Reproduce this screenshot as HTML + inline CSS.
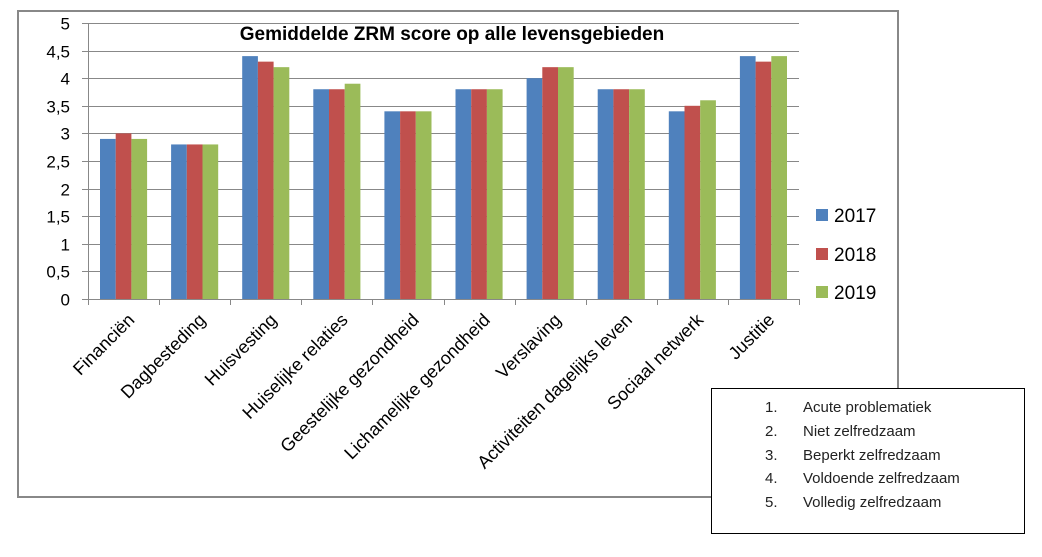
<!DOCTYPE html>
<html><head><meta charset="utf-8"><style>
body{margin:0;background:#fff;width:1042px;height:552px;overflow:hidden}
svg{font-family:"Liberation Sans",sans-serif}
</style></head><body>
<svg width="1042" height="552">
<rect x="18" y="11" width="880" height="486" fill="#fff" stroke="#888" stroke-width="2"/>
<text x="452" y="40" font-size="19" font-weight="bold" text-anchor="middle">Gemiddelde ZRM score op alle levensgebieden</text>
<g id="grid"></g><g id="bars"></g><g id="xl"></g>
<g>
<rect x="816" y="209" width="12" height="12" fill="#4F81BD"/><text x="834" y="222" font-size="19">2017</text>
<rect x="816" y="248" width="12" height="12" fill="#C0504D"/><text x="834" y="261" font-size="19">2018</text>
<rect x="816" y="286" width="12" height="12" fill="#9BBB59"/><text x="834" y="299" font-size="19">2019</text>
</g>
<g>
<rect x="711.5" y="388.5" width="313" height="145" fill="#fff" stroke="#000"/>
<g font-size="15" fill="#222">
<text x="765" y="412">1.</text><text x="803" y="412">Acute problematiek</text>
<text x="765" y="436">2.</text><text x="803" y="436">Niet zelfredzaam</text>
<text x="765" y="460">3.</text><text x="803" y="460">Beperkt zelfredzaam</text>
<text x="765" y="483">4.</text><text x="803" y="483">Voldoende zelfredzaam</text>
<text x="765" y="507">5.</text><text x="803" y="507">Volledig zelfredzaam</text>
</g></g>
</svg>
<script>
const categories=["Financiën","Dagbesteding","Huisvesting","Huiselijke relaties","Geestelijke gezondheid","Lichamelijke gezondheid","Verslaving","Activiteiten dagelijks leven","Sociaal netwerk","Justitie"];
const s2017=[2.9,2.8,4.4,3.8,3.4,3.8,4.0,3.8,3.4,4.4];
const s2018=[3.0,2.8,4.3,3.8,3.4,3.8,4.2,3.8,3.5,4.3];
const s2019=[2.9,2.8,4.2,3.9,3.4,3.8,4.2,3.8,3.6,4.4];
const yTicks=["0","0,5","1","1,5","2","2,5","3","3,5","4","4,5","5"];
const X0=88,X1=799,Y0=299,Y1=23,NS="http://www.w3.org/2000/svg";
const y=v=>Y0-(v/5)*(Y0-Y1);
const cw=(X1-X0)/categories.length;
const xc=i=>X0+cw*(i+0.5);
function mk(t,a,p){const e=document.createElementNS(NS,t);for(const k in a)e.setAttribute(k,a[k]);p.appendChild(e);return e;}
const g=document.getElementById('grid');
yTicks.forEach((t,i)=>{const v=i*0.5,yy=Math.round(y(v))+0.5;
 const l=mk('line',{x1:X0-6,x2:X1,y1:yy,y2:yy,stroke:'#888','stroke-width':1},g);
 
 
 const tx=mk('text',{x:70,y:yy+6,'font-size':17,'text-anchor':'end'},g);tx.textContent=t;
 
 
});
mk('line',{x1:X0+0.5,x2:X0+0.5,y1:Y1,y2:Y0+6,stroke:'#888'},g);
for(let i=0;i<=categories.length;i++){const xx=Math.round(X0+cw*i)+0.5;mk('line',{x1:xx,x2:xx,y1:Y0,y2:Y0+6,stroke:'#888'},g);}
const b=document.getElementById('bars');
const series=[s2017,s2018,s2019],cols=["#4F81BD","#C0504D","#9BBB59"],bw=15.7;
series.forEach((s,k)=>s.forEach((v,i)=>{
 const r=mk('rect',{x:xc(i)-1.5*bw+k*bw,y:y(v),width:bw,height:Y0-y(v),fill:cols[k]},b);
 
 
}));
const xl=document.getElementById('xl');
categories.forEach((c,i)=>{
 const ax=xc(i)+12,ay=Y0+22;
 const t=mk('text',{x:ax,y:ay,'font-size':18,'text-anchor':'end',transform:`rotate(-45 ${ax} ${ay})`},xl);
 t.textContent=c;
 
 
});
</script>
</body></html>
